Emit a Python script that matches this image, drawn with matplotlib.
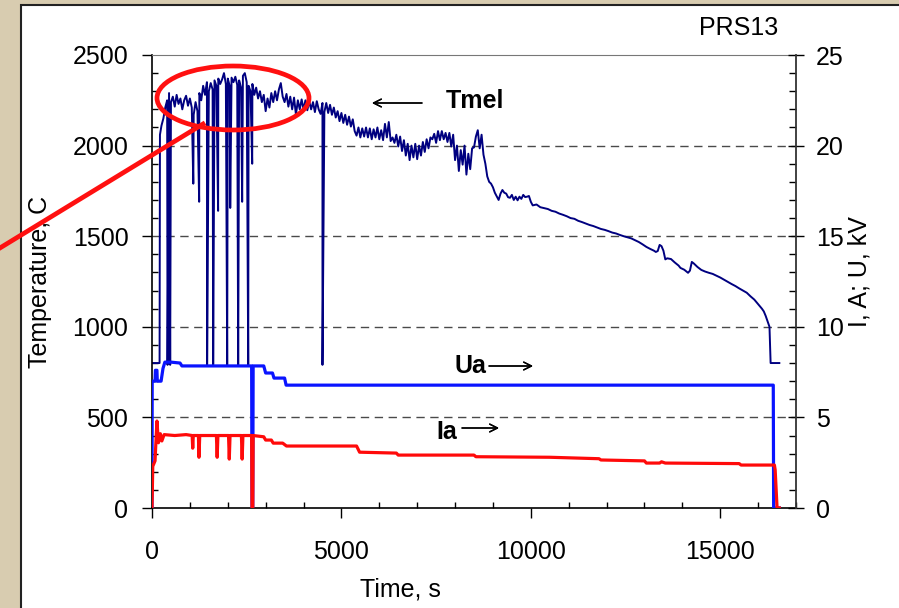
import matplotlib
matplotlib.use('agg')

import matplotlib.pyplot as plt
import numpy as np
from matplotlib.patches import Rectangle, Ellipse
from matplotlib.lines import Line2D
from matplotlib.ticker import MultipleLocator

plt.rcParams['font.family'] = ['Liberation Sans', 'DejaVu Sans']

# melt temperature, deg C (logged trace)
tmel_t = [
    0, 200, 210, 250, 300, 350, 400, 450, 500, 550,
    600, 650, 700, 750, 800, 850, 900, 950, 1000, 1050,
    1100, 1150, 1200, 1250, 1300, 1350, 1400, 1450, 1500, 1550,
    1600, 1650, 1700, 1750, 1800, 1850, 1900, 1950, 2000, 2050,
    2100, 2150, 2200, 2250, 2300, 2350, 2400, 2450, 2500, 2550,
    2600, 2650, 2700, 2750, 2800, 2850, 2900, 2950, 3000, 3050,
    3100, 3150, 3200, 3250, 3300, 3350, 3400, 3450, 3500, 3550,
    3600, 3650, 3700, 3750, 3800, 3850, 3900, 3950, 4000, 4050,
    4100, 4150, 4200, 4250, 4300, 4350, 4400, 4450, 4500, 4550,
    4600, 4650, 4700, 4750, 4800, 4850, 4900, 4950, 5000, 5050,
    5100, 5150, 5200, 5250, 5300, 5350, 5400, 5450, 5500, 5550,
    5600, 5650, 5700, 5750, 5800, 5850, 5900, 5950, 6000, 6050,
    6100, 6150, 6200, 6250, 6300, 6350, 6400, 6450, 6500, 6550,
    6600, 6650, 6700, 6750, 6800, 6850, 6900, 6950, 7000, 7050,
    7100, 7150, 7200, 7250, 7300, 7350, 7400, 7450, 7500, 7550,
    7600, 7650, 7700, 7750, 7800, 7850, 7900, 7950, 8000, 8050,
    8100, 8150, 8200, 8250, 8300, 8350, 8400, 8450, 8500, 8550,
    8600, 8650, 8700, 8750, 8800, 8850, 8900, 8950, 9000, 9050,
    9100, 9150, 9200, 9250, 9300, 9350, 9400, 9450, 9500, 9550,
    9600, 9650, 9700, 9750, 9800, 9850, 9900, 9950, 10000, 10050,
    10150, 10250, 10350, 10450, 10550, 10650, 10750, 10850, 10950, 11050,
    11150, 11250, 11350, 11450, 11550, 11650, 11750, 11850, 11950, 12050,
    12150, 12250, 12350, 12450, 12550, 12650, 12750, 12850, 12950, 13050,
    13150, 13250, 13300, 13350, 13400, 13450, 13500, 13550, 13600, 13700,
    13800, 13900, 13950, 14050, 14150, 14200, 14250, 14300, 14400, 14500,
    14600, 14700, 14800, 14900, 15000, 15100, 15200, 15300, 15400, 15500,
    15600, 15700, 15800, 15900, 16000, 16100, 16150, 16200, 16250, 16300,
    16330, 16560,
]
tmel_v = [
    800, 800, 2060, 2110, 2150, 2210, 2250, 2290, 2240, 2270,
    2215, 2280, 2230, 2260, 2200, 2250, 2275, 2220, 2260, 2210,
    2170, 2240, 2190, 2290, 2250, 2330, 2280, 2350, 2300, 2345,
    2310, 2360, 2330, 2370, 2340, 2365, 2400, 2340, 2370, 2330,
    2375, 2350, 2380, 2335, 2360, 2320, 2385, 2400, 2350, 2330,
    2300, 2340, 2280, 2320, 2260, 2300, 2240, 2280, 2190, 2260,
    2210, 2290, 2240, 2300, 2250, 2310, 2345, 2270, 2240, 2285,
    2215, 2270, 2200, 2265, 2170, 2250, 2200, 2255, 2200, 2250,
    2195, 2245, 2200, 2240, 2185, 2245, 2200, 2175, 2235, 2185,
    2235, 2180, 2225, 2170, 2210, 2155, 2190, 2135, 2180, 2125,
    2170, 2115, 2160, 2105, 2145, 2080, 2055, 2100, 2045, 2095,
    2050, 2100, 2045, 2095, 2035, 2090, 2045, 2100, 2035, 2085,
    2030, 2120, 2045, 2130, 2025, 2045, 2015, 2060, 1995, 2050,
    1970, 2030, 1945, 2010, 1920, 2000, 1935, 2010, 1925, 2000,
    1945, 2020, 1965, 2035, 1985, 2045, 2035, 2065, 2015, 2080,
    2030, 2080, 2035, 2070, 2020, 2070, 1995, 2060, 1920, 2000,
    1860, 1975, 1895, 2000, 1840, 1955, 1870, 1985, 1990, 2050,
    2085, 1985, 2060, 1950, 1900, 1830, 1800, 1790, 1770, 1740,
    1720, 1700, 1735, 1755, 1740, 1735, 1715, 1712, 1728, 1700,
    1718, 1698, 1718, 1706, 1728, 1716, 1718, 1722, 1690, 1670,
    1675, 1660, 1655, 1650, 1640, 1635, 1625, 1618, 1610, 1600,
    1596, 1585, 1578, 1570, 1562, 1556, 1548, 1540, 1535, 1528,
    1520, 1515, 1507, 1500, 1494, 1488, 1478, 1468, 1455, 1441,
    1430, 1420, 1413, 1418, 1452, 1445, 1420, 1372, 1378, 1374,
    1355, 1338, 1325, 1315, 1298, 1310, 1358, 1350, 1330, 1314,
    1305, 1298, 1292, 1282, 1272, 1260, 1248, 1236, 1225, 1212,
    1200, 1188, 1168, 1150, 1125, 1100, 1085, 1060, 1030, 1000,
    800, 800,
]

# pyrometer dropouts
drop_t = [410, 480, 1090, 1245, 1455, 1615, 1745, 1985, 2065, 2275, 2380, 2540, 2645, 4500]
drop_v = [790, 790, 1790, 1690, 790, 790, 1640, 790, 1656, 790, 1690, 790, 1900, 790]

# anode voltage, kV
ua_t = [0, 5, 80, 90, 130, 140, 240, 290, 340, 500, 740, 790, 2630, 2640, 2660, 2670,
        2950, 3000, 3180, 3220, 3500, 3540, 16400, 16410, 16560]
ua_v = [0, 7.0, 7.0, 7.6, 7.6, 7.0, 7.0, 7.7, 8.05, 8.05, 8.0, 7.84, 7.84, 0, 0, 7.84,
        7.84, 7.45, 7.45, 7.17, 7.17, 6.78, 6.78, 0, 0]

# anode current, A
ia_t = [0, 20, 80, 130, 170, 220, 260, 320, 600, 900, 1060, 1075, 1090, 1225, 1240, 1260,
        1700, 1720, 1740, 2020, 2040, 2060, 2360, 2380, 2400, 2630, 2640, 2660, 2670,
        2950, 3000, 3150, 3200, 3450, 3550, 5400, 5480, 6450, 6500, 8500, 8550, 10500,
        11800, 11850, 13000, 13050, 13400, 13450, 13550, 15500, 15550, 16430, 16450,
        16500, 16560]
ia_v = [0, 2.3, 2.6, 4.8, 3.6, 4.1, 3.7, 4.05, 4.0, 4.05, 4.0, 3.3, 4.0, 4.0, 2.8, 4.0,
        4.0, 2.8, 4.0, 4.0, 2.7, 4.0, 4.0, 2.7, 4.0, 4.0, 0, 0, 4.0,
        3.93, 3.75, 3.75, 3.58, 3.58, 3.42, 3.42, 3.08, 3.03, 2.92, 2.92, 2.83, 2.8,
        2.72, 2.65, 2.6, 2.48, 2.48, 2.55, 2.48, 2.45, 2.37, 2.37, 2.1,
        0, 0]

W, H = 899, 608
fig = plt.figure(figsize=(W / 100, H / 100), dpi=100, facecolor='#d8ccb0')


def fx(px):
    return px / W


def fy(py):
    return 1 - py / H


# white slide panel
panel = Rectangle((fx(21), -0.05), 1.0, fy(5) + 0.05, transform=fig.transFigure,
                  facecolor='white', edgecolor='#222222', linewidth=1.5, zorder=-10)
fig.patches.append(panel)

ax = fig.add_axes([fx(152), fy(508), (796 - 152) / W, (508 - 55) / H])
ax.set_facecolor('none')

t_all = np.concatenate([tmel_t, drop_t])
v_all = np.concatenate([tmel_v, drop_v])
order = np.argsort(t_all, kind='stable')
ax.plot(t_all[order], v_all[order], color='#000080', linewidth=1.4)

ax.set_xlim(0, 17000)
ax.set_ylim(0, 2500)
for y in [500, 1000, 1500, 2000]:
    ax.axhline(y, color='#4a4a4a', linewidth=1.0, linestyle=(0, (6, 4)), zorder=0)

ax.xaxis.set_major_locator(MultipleLocator(5000))
ax.xaxis.set_minor_locator(MultipleLocator(1000))
ax.yaxis.set_major_locator(MultipleLocator(500))
ax.yaxis.set_minor_locator(MultipleLocator(100))
ax.tick_params(which='major', direction='out', length=7, width=1.0, labelsize=18)
ax.tick_params(which='minor', direction='in', length=4, width=1.0)
ax.tick_params(axis='x', which='major', pad=16)
ax.tick_params(axis='y', which='major', pad=10)
ax.tick_params(right=False, which='both')
for s in ['left', 'bottom']:
    ax.spines[s].set_linewidth(1.2)
ax.spines['top'].set_color('#777777')
ax.spines['top'].set_linewidth(0.8)
ax.spines['right'].set_visible(False)

ax2 = ax.twinx()
ax2.plot(ua_t, ua_v, color='#0a14ff', linewidth=2.3)
ax2.plot(ia_t, ia_v, color='#ff0a0a', linewidth=2.3)
ax2.set_ylim(0, 25)
ax2.yaxis.set_major_locator(MultipleLocator(5))
ax2.yaxis.set_minor_locator(MultipleLocator(1))
ax2.tick_params(which='major', direction='inout', length=11, width=1.0, labelsize=18, pad=9)
ax2.tick_params(which='minor', direction='in', length=5, width=1.0)
for s in ['left', 'top', 'bottom']:
    ax2.spines[s].set_visible(False)
ax2.spines['right'].set_linewidth(1.3)
ax2.spines['right'].set_color('#333333')

# axis titles and labels
fig.text(fx(400), fy(590), 'Time, s', fontsize=18, ha='center', va='center')
fig.text(fx(40), fy(282), 'Temperature, C', fontsize=18, ha='center', va='center', rotation=90)
fig.text(fx(859), fy(272), 'I, A; U, kV', fontsize=18, ha='center', va='center', rotation=90)
fig.text(fx(739), fy(28), 'PRS13', fontsize=18, ha='center', va='center')

fig.text(fx(475), fy(101), 'Tmel', fontsize=18, fontweight='bold', ha='center', va='center')
fig.text(fx(470), fy(366), 'Ua', fontsize=18, fontweight='bold', ha='center', va='center')
fig.text(fx(447), fy(432), 'Ia', fontsize=18, fontweight='bold', ha='center', va='center')

arrow_kw = dict(arrowstyle='->', color='black', linewidth=1.0, mutation_scale=14,
                shrinkA=0, shrinkB=0)
fig.add_artist(plt.annotate('', xy=(fx(372), fy(103)), xytext=(fx(422), fy(103)),
                            xycoords='figure fraction', arrowprops=arrow_kw))
fig.add_artist(plt.annotate('', xy=(fx(533), fy(366)), xytext=(fx(489), fy(366)),
                            xycoords='figure fraction', arrowprops=arrow_kw))
fig.add_artist(plt.annotate('', xy=(fx(499), fy(428)), xytext=(fx(462), fy(428)),
                            xycoords='figure fraction', arrowprops=arrow_kw))

# highlight of the plateau
ell = Ellipse((fx(233), fy(98)), 152 / W, 64 / H, transform=fig.transFigure,
              facecolor='none', edgecolor='#ff1010', linewidth=3.4, zorder=20)
fig.add_artist(ell)
fig.add_artist(Line2D([fx(-5), fx(203)], [fy(251), fy(124)], transform=fig.transFigure,
                      color='#ff1010', linewidth=3.4, zorder=20))

fig.savefig('out.png', dpi=100, facecolor=fig.get_facecolor())
